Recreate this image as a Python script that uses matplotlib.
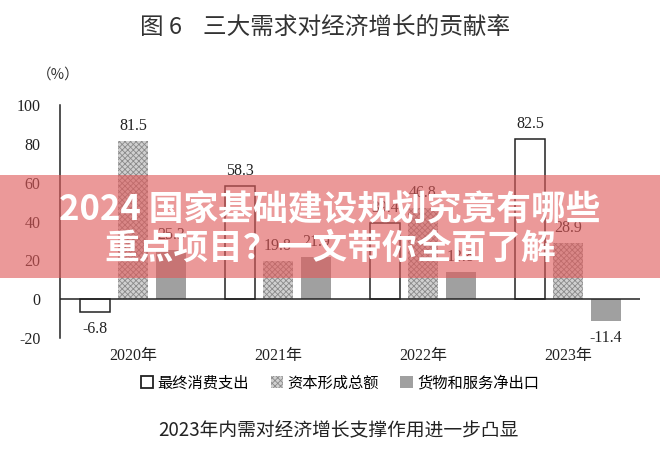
import matplotlib
matplotlib.use("Agg")
import matplotlib.pyplot as plt
import numpy as np
from matplotlib.patches import Rectangle, Patch

years = ["2020年", "2021年", "2022年", "2023年"]
series_names = ["最终消费支出", "资本形成总额", "货物和服务净出口"]
consumption = [-6.8, 58.3, 39.4, 82.5]
capital = [81.5, 19.8, 46.8, 28.9]
net_export = [25.3, 21.9, 13.8, -11.4]
yticks = [-20, 0, 20, 40, 60, 80, 100]

serif = ["Liberation Serif", "Noto Sans CJK SC"]
sans = ["Noto Sans CJK SC", "DejaVu Sans"]
plt.rcParams["font.family"] = sans
plt.rcParams["hatch.linewidth"] = 0.6

fig = plt.figure(figsize=(6.6, 4.55), dpi=100)
ax = fig.add_axes([60/660, 1-338/455, 580/660, (338-105)/455])

x = np.arange(len(years))
w = 0.207
off = 0.262
b1 = ax.bar(x - off, consumption, w, facecolor="white", edgecolor="#222222", linewidth=1.1, zorder=2)
b2 = ax.bar(x, capital, w, facecolor="#d0d0d0", edgecolor="#8a8a8a", hatch="xxxxxx", linewidth=0, zorder=2)
b3 = ax.bar(x + off, net_export, w, facecolor="#a0a0a0", edgecolor="none", zorder=2)

for bars, vals in [(b1, consumption), (b2, capital), (b3, net_export)]:
    for rect, v in zip(bars, vals):
        cx = rect.get_x() + rect.get_width()/2
        if v >= 0:
            ax.annotate(f"{v}", (cx, v), xytext=(0, 5), textcoords="offset points",
                        ha="center", va="bottom", fontsize=11.5, family=serif, color="#222")
        else:
            ax.annotate(f"{v}", (cx, v), xytext=(0, -6), textcoords="offset points",
                        ha="center", va="top", fontsize=11.5, family=serif, color="#222")

ax.axhline(0, color="#222", linewidth=1.1, zorder=3)
ax.set_xlim(-0.503, 3.497)
ax.set_ylim(-20, 100)
ax.set_yticks(yticks)
ax.set_yticklabels([str(t) for t in yticks], family=serif, fontsize=11.5, color="#222")
ax.tick_params(axis="y", length=0, pad=14)
ax.set_xticks([])
for s in ["top", "right", "bottom"]:
    ax.spines[s].set_visible(False)
ax.spines["left"].set_linewidth(1.1)
ax.spines["left"].set_color("#222")

for xi, yl in zip(x, years):
    fig.text((60 + (xi + 0.503) * 145) / 660, 1 - 356/455, yl, ha="center", va="center",
             fontsize=11.5, family=serif, color="#222")

fig.text(325/660, 1 - 28/455, "图 6    三大需求对经济增长的贡献率", ha="center", va="center",
         fontsize=17, color="#333", family=sans)
fig.text(58/660, 1 - 75/455, "（%）", ha="center", va="center", fontsize=10.5, color="#333", family=sans)

handles = [Patch(facecolor="white", edgecolor="#222", linewidth=1.3),
           Patch(facecolor="#d0d0d0", edgecolor="#8a8a8a", hatch="xxxxxx", linewidth=0),
           Patch(facecolor="#a0a0a0", edgecolor="none")]
fig.legend(handles, series_names, loc="center", bbox_to_anchor=(340/660, 1 - 383/455), ncol=3,
           frameon=False, handlelength=0.8, handleheight=0.8, handletextpad=0.3,
           columnspacing=1.4, prop={"family": sans, "size": 11})

fig.text(338/660, 1 - 430/455, "2023年内需对经济增长支撑作用进一步凸显", ha="center", va="center",
         fontsize=13.5, color="#222", family=sans)

# overlay banner
fig.patches.append(Rectangle((0, 1 - 278/455), 1, (278-175)/455, transform=fig.transFigure,
                             facecolor="#e05a5a", alpha=0.62, edgecolor="none", zorder=10))
fig.text(0.5, 1 - 210/455, "2024 国家基础建设规划究竟有哪些", ha="center", va="center",
         fontsize=25, color="white", fontweight="bold", family=sans, zorder=11)
fig.text(0.5, 1 - 248/455, "重点项目？一文带你全面了解", ha="center", va="center",
         fontsize=25, color="white", fontweight="bold", family=sans, zorder=11)

fig.savefig("out.png", dpi=100)
